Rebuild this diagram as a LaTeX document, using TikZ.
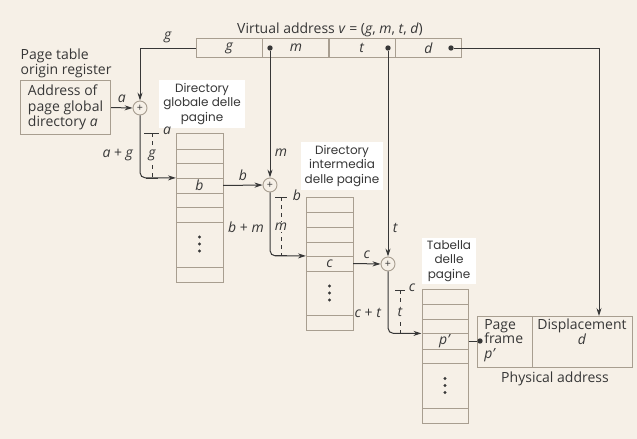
\documentclass[tikz,border=0pt]{standalone}
\usepackage{fontspec}
\setmainfont{Open Sans}
\newfontfamily\comicfont{Poppins}
\usepackage{xcolor}
\usepackage{tikz}
\usetikzlibrary{arrows.meta,positioning,calc}

\definecolor{paper}{RGB}{246,240,231}
\definecolor{ink}{RGB}{55,55,55}
\definecolor{rule}{RGB}{168,158,144}

\begin{document}
\begin{tikzpicture}[
    x=0.75pt, y=-0.75pt,
    every node/.style={text=ink, font=\fontsize{10.5}{11.5}\selectfont},
    vcell/.style={draw=rule, line width=0.8pt, minimum width=50pt, minimum height=14.25pt, inner sep=0pt},
    entry/.style={minimum width=35pt, minimum height=11pt, inner sep=0pt},
    adder/.style={circle, draw=rule, fill=paper, line width=0.7pt, minimum size=10.5pt, inner sep=0pt, font=\footnotesize},
    bullet/.style={circle, fill=ink, inner sep=0pt, minimum size=4pt},
    tablabel/.style={fill=white, align=center, inner sep=2pt, font=\comicfont\fontsize{9}{11}\selectfont},
    tbl/.style={draw=rule, line width=0.7pt},
    arr/.style={-{Stealth[length=6pt, width=3.8pt]}, draw=ink, line width=0.75pt},
    wire/.style={draw=ink, line width=0.75pt},
    offs/.style={draw=ink, line width=0.5pt},
    var/.style={font=\itshape\fontsize{10.5}{11.5}\selectfont}
  ]
    \useasboundingbox[fill=paper] (0,0) rectangle (637,439);

    %% ---- Virtual address ----
    \node (vtitle) at (330,30) {Virtual address \textit{v} = (\textit{g}, \textit{m}, \textit{t}, \textit{d})};
    \node[vcell] (vg) at (229.5,48) {\textit{g}};
    \node[vcell] (vm) at (296,48)   {\textit{m}};
    \node[vcell] (vt) at (362,48)   {\textit{t}};
    \node[vcell] (vd) at (428.5,48) {\textit{d}};
    \node[bullet] (dm) at (270,48) {};
    \node[bullet] (dt) at (388,48) {};
    \node[bullet] (dd) at (451,48) {};

    %% ---- Page table origin register ----
    \node[align=left, anchor=north west] (otitle) at (16,44) {Page table\\origin register};
    \node[draw=rule, line width=0.8pt, align=left, anchor=north west,
          minimum width=67.5pt, minimum height=40.5pt] (origin) at (20,80)
          {Address of\\page global\\directory \textit{a}};

    %% ---- Adders ----
    \node[adder] (pl1) at (140,108) {+};
    \node[adder] (pl2) at (270,185) {+};
    \node[adder] (pl3) at (388,264) {+};

    %% ---- Global directory ----
    \draw[tbl] (176,133) rectangle (223,282);
    \foreach \y in {149,163,178,193,207,222,267} \draw[tbl] (176,\y) -- (223,\y);
    \node[entry] (t1b) at (199.5,185.5) {\textit{b}};
    \foreach \d in {-7,0,7} \fill[ink] (199.5,244+\d) circle (1.2pt);
    \node[tablabel, minimum width=65pt] (lg) at (202,104) {Directory\\globale delle\\pagine};

    %% ---- Intermediate directory ----
    \draw[tbl] (306,197) rectangle (353,330);
    \foreach \y in {212,227,242,256,271,315} \draw[tbl] (306,\y) -- (353,\y);
    \node[entry] (t2c) at (329.5,263.5) {\textit{c}};
    \foreach \d in {-7,0,7} \fill[ink] (329.5,293+\d) circle (1.2pt);
    \node[tablabel, minimum width=61pt] (li) at (342,166) {Directory\\intermedia\\delle pagine};

    %% ---- Page table ----
    \draw[tbl] (422,289) rectangle (468,423);
    \foreach \y in {304,319,333,349,363,408} \draw[tbl] (422,\y) -- (468,\y);
    \node[entry] (t3p) at (445,341) {\textit{p'}};
    \foreach \d in {-7,0,7} \fill[ink] (445,385.5+\d) circle (1.2pt);
    \node[tablabel, minimum width=41pt] (lt) at (449,261) {Tabella\\delle\\pagine};

    %% ---- Physical address ----
    \node[draw=rule, line width=0.8pt, minimum width=41.25pt, minimum height=38.25pt, inner sep=0pt, anchor=north west] (pfbox) at (477,316) {};
    \node[draw=rule, line width=0.8pt, minimum width=75pt, minimum height=38.25pt, inner sep=0pt, anchor=north west] (dispbox) at (532,316) {};
    \node[align=left, anchor=north west, inner sep=0pt, font=\fontsize{10.5}{11}\selectfont] (pftext) at (484,319) {Page\\frame\\\textit{p'}};
    \node[align=center, anchor=north, inner sep=0pt, font=\fontsize{10.5}{11}\selectfont] (disptext) at (582,319) {Displacement\\\textit{d}};
    \node (physlabel) at (555,379) {Physical address};
    \node[bullet] (pfdot) at (480,341) {};
    \coordinate (dtarget) at (599,316);

    %% ---- Connectors ----
    \draw[arr] (vg.west) -| node[pos=0.25, above, var] {g} (pl1.north);
    \draw[arr] (origin.east) -- node[above, var] {a} (pl1.west);
    \draw[arr, rounded corners=4pt] (pl1.south) |- (t1b.north west);
    \draw[arr] (t1b.east) -- node[above, var] {b} (pl2.west);
    \draw[arr] (dm) -- node[pos=0.8, right, var] {m} (pl2.north);
    \draw[arr, rounded corners=4pt] (pl2.south) |- (t2c.north west);
    \draw[arr] (t2c.east) -- node[above, var] {c} (pl3.west);
    \draw[arr] (dt) -- node[pos=0.86, right, var] {t} (pl3.north);
    \draw[arr, rounded corners=4pt] (pl3.south) |- (t3p.north west);
    \draw[wire] (t3p.east) -- (pfdot);
    \draw[arr] (dd) -| (dtarget);

    %% ---- Offsets ----
    \draw[offs] (144,133) -- (159,133);
    \draw[offs, dashed] (152,133) -- (152,178);
    \draw[offs] (146,178) -- (158,178);
    \node[var, fill=paper, inner sep=1pt] (og) at (152,155) {g};
    \node[var] (oa) at (167,131) {a};
    \node (oag) at (118,155) {\textit{a} + \textit{g}};

    \draw[offs] (275,197) -- (287,197);
    \draw[offs, dashed] (281,197) -- (281,255);
    \draw[offs] (275,255) -- (287,255);
    \node[var, fill=paper, inner sep=1pt] (om) at (281,227) {m};
    \node[var] (ob) at (297,195) {b};
    \node (obm) at (246,227) {\textit{b} + \textit{m}};

    \draw[offs] (395,290) -- (405,290);
    \draw[offs, dashed] (400,290) -- (400,333);
    \draw[offs] (395,333) -- (405,333);
    \node[var, fill=paper, inner sep=1pt] (ot) at (400,312) {t};
    \node[var] (oc) at (412,288) {c};
    \node (oct) at (368,313) {\textit{c} + \textit{t}};
  \end{tikzpicture}
\end{document}
